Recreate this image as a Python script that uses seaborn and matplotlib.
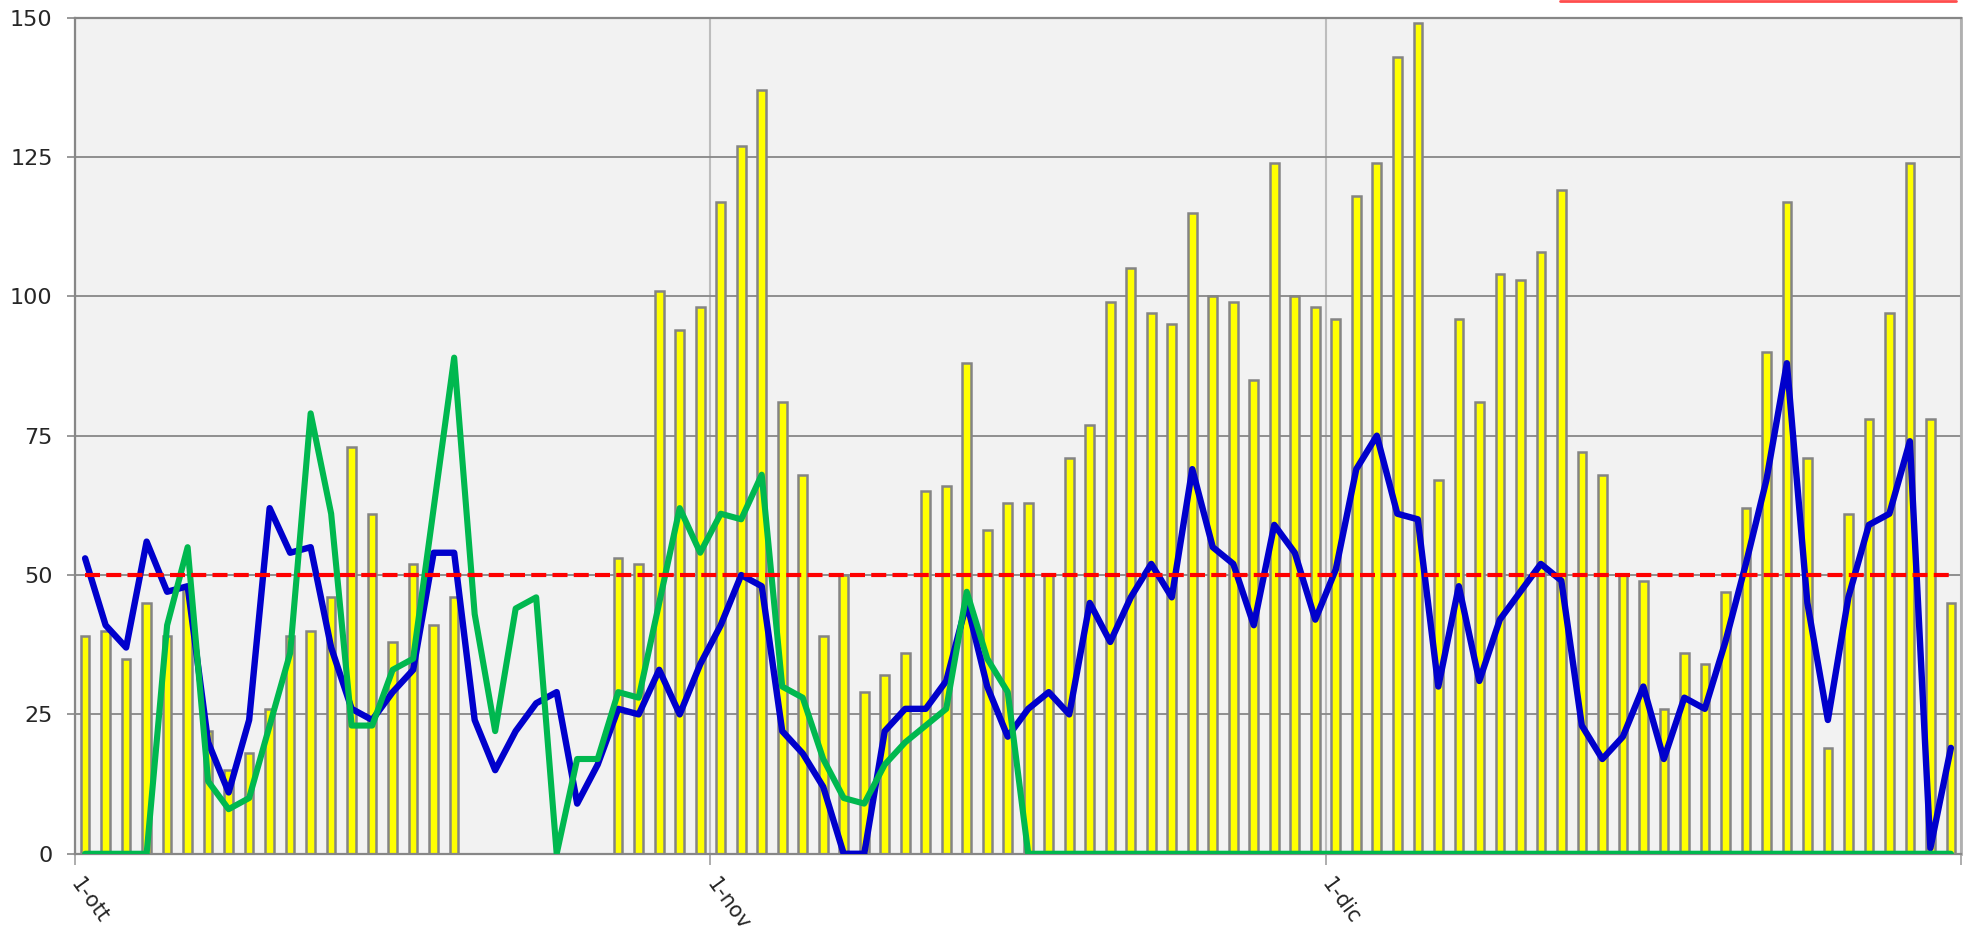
import numpy as np
import pandas as pd
import matplotlib
matplotlib.use("Agg")
import matplotlib.pyplot as plt
import seaborn as sns
from matplotlib.lines import Line2D

# =========================================================
# DATI (1 ottobre - 31 dicembre)
# =========================================================
giorni = pd.date_range("2023-10-01", "2023-12-31", freq="D")

# barre gialle (0 = giorno senza dato)
presenze = [
    39, 40, 35, 45, 39, 48, 22, 15, 18, 26, 39, 40, 46,
    73, 61, 38, 52, 41, 46,
    0, 0, 0, 0, 0, 0, 0,
    53, 52,
    101, 94, 98, 117, 127, 137, 81, 68, 39, 50, 29, 32, 36, 65, 66, 88,
    58, 63, 63, 50, 71, 77, 99, 105, 97, 95, 115, 100, 99, 85, 124, 100,
    98, 96, 118, 124, 143, 149, 67, 96, 81, 104, 103, 108, 119, 72, 68,
    50, 49, 26, 36, 34, 47, 62, 90, 117, 71, 19, 61, 78, 97, 124, 78, 45,
]

# linea blu
serie_blu = [
    53, 41, 37, 56, 47, 48, 20, 11, 24, 62, 54, 55, 37,
    26, 24, 29, 33, 54, 54, 24, 15, 22, 27, 29, 9, 16, 26, 25,
    33, 25, 34, 41, 50, 48, 22, 18, 12, 0, 0, 22, 26, 26, 31, 45,
    30, 21, 26, 29, 25, 45, 38, 46, 52, 46, 69, 55, 52, 41, 59, 54,
    42, 51, 69, 75, 61, 60, 30, 48, 31, 42, 47, 52, 49, 23, 17,
    21, 30, 17, 28, 26, 38, 52, 67, 88, 45, 24, 46, 59, 61, 74, 1, 19,
]

# linea verde
serie_verde = [
    0, 0, 0, 0,
    41, 55, 13, 8, 10, 23, 36, 79, 61,
    23, 23, 33, 35, 62, 89, 43, 22, 44, 46, 0, 17, 17, 29, 28,
    45, 62, 54, 61, 60, 68, 30, 28, 17, 10, 9, 16, 20, 23, 26, 47,
    35, 29,
    0, 0, 0, 0, 0, 0, 0, 0, 0, 0, 0, 0, 0, 0, 0, 0, 0, 0, 0, 0, 0, 0, 0,
    0, 0, 0, 0, 0, 0, 0, 0, 0, 0, 0, 0, 0, 0, 0, 0, 0, 0, 0, 0, 0, 0, 0,
]

# soglia rossa tratteggiata
SOGLIA = 50

# etichette asse x (inizio mese)
etichette_mesi = ["1-ott", "1-nov", "1-dic", ""]
inizio_mesi = ["2023-10-01", "2023-11-01", "2023-12-01", "2024-01-01"]

# =========================================================
# COLORI
# =========================================================
COR_BARRE = "#ffff00"
COR_BORDO = "#848484"
COR_BLU = "#0000cc"
COR_VERDE = "#00b84f"
COR_ROSSO = "#ff0000"
COR_GRIGLIA = "#878787"


def main():
    df = pd.DataFrame({
        "giorno": np.arange(len(giorni)),
        "data": giorni,
        "presenze": presenze,
        "blu": serie_blu,
        "verde": serie_verde,
    })
    df["soglia"] = SOGLIA

    sns.set_style("white")
    plt.rcParams["font.family"] = ["DejaVu Sans"]

    fig = plt.figure(figsize=(19.7, 9.26), dpi=100)
    ax = fig.add_axes([0.038, 0.078, 0.9575, 0.903])
    ax.set_facecolor("#f2f2f2")

    sns.barplot(data=df, x="giorno", y="presenze", color=COR_BARRE, saturation=1,
                edgecolor=COR_BORDO, linewidth=1.8, width=0.42, ax=ax, zorder=2)
    sns.lineplot(data=df, x="giorno", y="blu", color=COR_BLU, linewidth=4.6,
                 ax=ax, zorder=3)
    sns.lineplot(data=df, x="giorno", y="verde", color=COR_VERDE, linewidth=4.4,
                 ax=ax, zorder=4)
    sns.lineplot(data=df, x="giorno", y="soglia", color=COR_ROSSO, linewidth=3.0,
                 dashes=False, ax=ax, zorder=5)
    ax.lines[-1].set_dashes((3.6, 1.5))

    # assi
    ax.set_xlim(-0.5, len(giorni) - 0.5)
    ax.set_ylim(0, 150)
    ax.set_yticks(range(0, 151, 25))
    pos_mesi = [(pd.Timestamp(d) - giorni[0]).days - 0.5 for d in inizio_mesi]
    ax.set_xticks(pos_mesi)
    ax.set_xticklabels(etichette_mesi, rotation=-54, ha="left", va="center",
                       rotation_mode="anchor")
    ax.set_xlabel("")
    ax.set_ylabel("")

    ax.tick_params(axis="y", labelsize=16, length=6, width=1.2, color=COR_GRIGLIA,
                   pad=10, left=True)
    ax.tick_params(axis="x", labelsize=15, length=8, width=1.2, color="#a0a0a0",
                   pad=11, bottom=True)

    # griglia
    ax.set_axisbelow(True)
    ax.yaxis.grid(True, color=COR_GRIGLIA, linewidth=1.3)
    ax.xaxis.grid(True, color="#bdbdbd", linewidth=1.5)

    for lato in ["left", "bottom", "top"]:
        ax.spines[lato].set_color(COR_GRIGLIA)
        ax.spines[lato].set_linewidth(1.6)
    ax.spines["right"].set_color("#b0b0b0")
    ax.spines["right"].set_linewidth(2.0)

    # bordo della legenda tagliato in alto a destra
    fig.add_artist(Line2D([0.792, 0.993], [0.9985, 0.9985], color="#ff4d4d",
                          linewidth=2, transform=fig.transFigure))

    fig.savefig("out.png", dpi=100, facecolor="white")
    plt.close(fig)


if __name__ == "__main__":
    main()
